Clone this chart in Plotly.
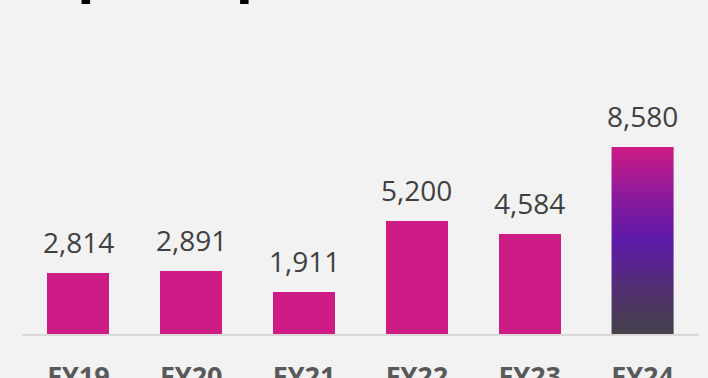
import plotly.graph_objects as go

# Fiscal years and reported values
categories = ["FY19", "FY20", "FY21", "FY22", "FY23", "FY24"]
values = [2814, 2891, 1911, 5200, 4584, 8580]
value_labels = ["2,814", "2,891", "1,911", "5,200", "4,584", "8,580"]
title_text = "Opex spend"

BAR_WIDTH = 0.55
MAGENTA = "#CD1C86"
BG = "#F2F2F2"

x_pos = list(range(len(categories)))
last = len(categories) - 1

# Solid bars for all years except the latest, which gets a gradient fill
bar_colors = [MAGENTA] * last + ["rgba(0,0,0,0)"]

fig = go.Figure()
fig.add_trace(go.Bar(
    x=x_pos, y=values, width=BAR_WIDTH,
    marker=dict(color=bar_colors, line=dict(width=0)),
    hoverinfo="skip", showlegend=False,
))

# Gradient bar for the latest year, outlined from its value
half = BAR_WIDTH / 2
xl, xr = x_pos[last] - half, x_pos[last] + half
fig.add_trace(go.Scatter(
    x=[xl, xr, xr, xl, xl], y=[0, 0, values[last], values[last], 0],
    mode="lines", line=dict(width=0), fill="toself",
    fillgradient=dict(
        type="vertical", start=0, stop=values[last],
        colorscale=[[0.0, "#45414A"], [0.25, "#532E74"], [0.5, "#5E1AA9"],
                    [0.75, "#8E1A9B"], [1.0, "#CE1B85"]],
    ),
    hoverinfo="skip", showlegend=False,
))

# Value labels above each bar
for xi, v, lab in zip(x_pos, values, value_labels):
    fig.add_annotation(
        x=xi, y=v, text=lab, showarrow=False, xref="x", yref="y",
        yanchor="bottom", yshift=10,
        font=dict(family="Open Sans", size=28, color="#404040"),
    )

# Title running off the top edge
fig.add_annotation(
    x=0, y=1, xref="paper", yref="paper", xanchor="left", yanchor="bottom",
    xshift=5, yshift=14, text="<b>" + title_text + "</b>", showarrow=False,
    font=dict(family="Liberation Sans", size=62, color="#000000"),
)

px_per_unit = 187 / 8580
plot_h = 334 - 20
fig.update_layout(
    width=708, height=378,
    margin=dict(l=21.5, r=8.5, t=20, b=44, autoexpand=False),
    paper_bgcolor=BG, plot_bgcolor=BG,
    bargap=0,
    xaxis=dict(
        range=[-0.5, len(categories) - 0.5], tickvals=x_pos, ticktext=categories,
        showgrid=False, zeroline=False, showline=True, linecolor="#D9D9D9",
        linewidth=2, ticks="", ticklabelstandoff=18, automargin=False,
        tickfont=dict(family="Open Sans", size=27, color="#595959", weight="bold"),
    ),
    yaxis=dict(
        range=[0, plot_h / px_per_unit], visible=False, showgrid=False,
        zeroline=False, automargin=False,
    ),
)

fig.write_html("out.html")
